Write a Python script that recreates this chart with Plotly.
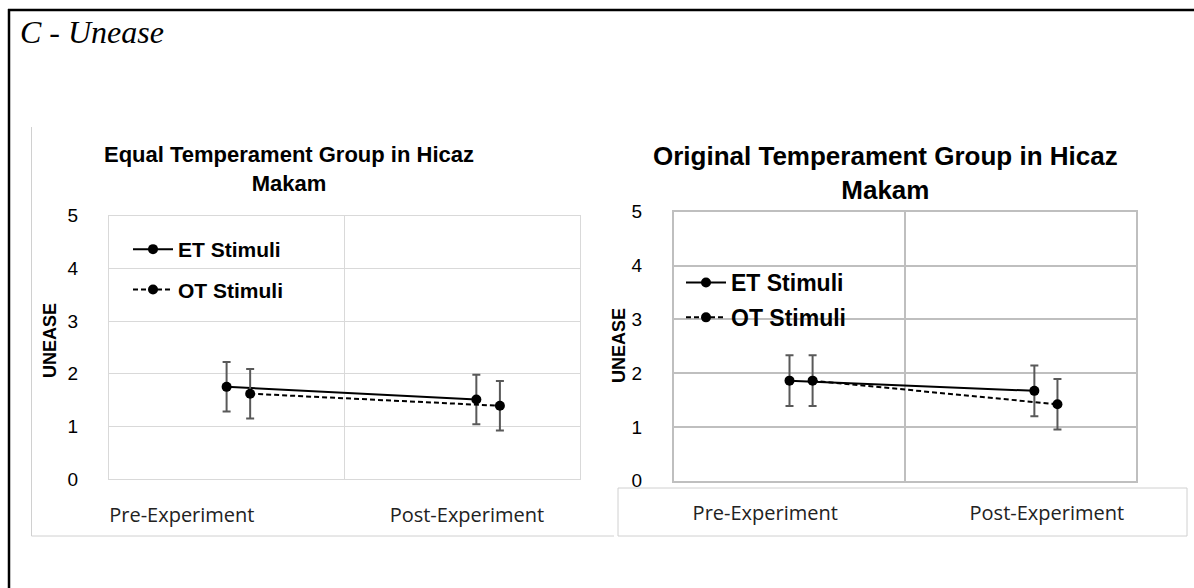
import plotly.graph_objects as go

W, H = 1194, 588

# ---------------- data ----------------
categories = ["Pre-Experiment", "Post-Experiment"]
series_names = ["ET Stimuli", "OT Stimuli"]
y_tick_labels = ["0", "1", "2", "3", "4", "5"]

eq_et_mean = [1.75, 1.51]
eq_et_err = [0.47, 0.47]
eq_ot_mean = [1.62, 1.39]
eq_ot_err = [0.47, 0.47]

or_et_mean = [1.86, 1.67]
or_et_err = [0.47, 0.47]
or_ot_mean = [1.86, 1.42]
or_ot_err = [0.47, 0.47]

title_left = "Equal Temperament Group in Hicaz<br>Makam"
title_right = "Original Temperament Group in Hicaz<br>Makam"
y_title = "UNEASE"
header = "C - Unease"


def px(x):
    return x / W


def py(y):
    return 1 - y / H


# position offsets of the two series inside each category slot (style)
ET_OFF = [0.0, 0.06]
OT_OFF = [0.10, 0.16]


def xpos(offs):
    return [i + 0.5 + o for i, o in enumerate(offs)]


fig = go.Figure()

err_style = dict(type="data", color="#595959", thickness=2, width=4, visible=True)


def add_pair(et_m, et_e, ot_m, ot_e, xa, ya, legend):
    fig.add_trace(go.Scatter(
        x=xpos(ET_OFF), y=et_m, name=series_names[0], mode="lines+markers",
        line=dict(color="black", width=2), marker=dict(color="black", size=10),
        error_y=dict(array=et_e, **err_style), xaxis=xa, yaxis=ya,
        legend=legend, legendgroup=legend + "a"))
    fig.add_trace(go.Scatter(
        x=xpos(OT_OFF), y=ot_m, name=series_names[1], mode="lines+markers",
        line=dict(color="black", width=2, dash="5px,3px"), marker=dict(color="black", size=10),
        error_y=dict(array=ot_e, **err_style), xaxis=xa, yaxis=ya,
        legend=legend, legendgroup=legend + "b"))


add_pair(eq_et_mean, eq_et_err, eq_ot_mean, eq_ot_err, "x", "y", "legend")
add_pair(or_et_mean, or_et_err, or_ot_mean, or_ot_err, "x2", "y2", "legend2")

tick_font = dict(family="Liberation Sans, Arial, sans-serif", size=19, color="#000")
xlab_font = dict(family="Open Sans, sans-serif", size=20, color="#222")


def yaxis(domain, grid, gw, anchor):
    return dict(domain=domain, range=[0, 5], tickvals=list(range(6)), ticktext=y_tick_labels,
                showgrid=True, gridcolor=grid, gridwidth=gw, zeroline=False,
                showline=True, linecolor=grid, linewidth=gw, mirror=True,
                tickfont=tick_font, ticks="", ticklabelstandoff=26, anchor=anchor,
                automargin=False, fixedrange=True)


def xaxis(domain, grid, gw, anchor, tickpos, standoff):
    return dict(domain=domain, range=[0, 2], tickvals=tickpos, ticktext=categories,
                showgrid=False, zeroline=False, showline=True, linecolor=grid, linewidth=gw,
                mirror=True, tickfont=xlab_font, ticks="", ticklabelstandoff=standoff,
                minor=dict(tickvals=[1], showgrid=True, gridcolor=grid, gridwidth=gw, ticks=""),
                anchor=anchor, automargin=False, fixedrange=True)


def legend_font(size):
    return dict(family="Liberation Sans, Arial, sans-serif", size=size, color="#000", weight="bold")


fig.update_layout(
    width=W, height=H, margin=dict(l=0, r=0, t=0, b=0, autoexpand=False),
    paper_bgcolor="white", plot_bgcolor="white",
    xaxis=xaxis([px(108.8), px(580)], "#d9d9d9", 1, "y", [0.31, 1.52], 18),
    yaxis=yaxis([py(479), py(215.7)], "#d9d9d9", 1, "x"),
    xaxis2=xaxis([px(674), px(1136)], "#bfbfbf", 2, "y2", [0.395, 1.614], 13),
    yaxis2=yaxis([py(480.7), py(211.7)], "#bfbfbf", 2, "x2"),
    legend=dict(x=px(128), y=py(229), xanchor="left", yanchor="top", font=legend_font(21),
                bgcolor="rgba(0,0,0,0)", traceorder="grouped", tracegroupgap=10, itemwidth=40),
    legend2=dict(x=px(681), y=py(261), xanchor="left", yanchor="top", font=legend_font(23),
                 bgcolor="rgba(0,0,0,0)", traceorder="grouped", tracegroupgap=2, itemwidth=40),
    showlegend=True,
)

shapes = [
    # outer black frame (top and left visible)
    dict(type="line", xref="paper", yref="paper", x0=px(8), x1=px(1200), y0=py(10), y1=py(10),
         line=dict(color="black", width=2.5)),
    dict(type="line", xref="paper", yref="paper", x0=px(9), x1=px(9), y0=py(9), y1=py(600),
         line=dict(color="black", width=2.5)),
    # left chart panel border
    dict(type="line", xref="paper", yref="paper", x0=px(31.5), x1=px(31.5), y0=py(127), y1=py(536),
         line=dict(color="#d0d0d0", width=1)),
    dict(type="line", xref="paper", yref="paper", x0=px(31.5), x1=px(614), y0=py(536), y1=py(536),
         line=dict(color="#d0d0d0", width=1)),
    # right chart category label box
    dict(type="rect", xref="paper", yref="paper", x0=px(618), x1=px(1187), y0=py(488), y1=py(536),
         line=dict(color="#d0d0d0", width=1), fillcolor="rgba(0,0,0,0)"),
]
fig.update_layout(shapes=shapes)


def title_font(size):
    return dict(family="Liberation Sans, Arial, sans-serif", size=size, color="#000", weight="bold")


ytitle_font = dict(family="Liberation Sans, Arial, sans-serif", size=18, color="#000", weight="bold")
annotations = [
    dict(text=header, xref="paper", yref="paper", x=px(18), y=py(12), xanchor="left", yanchor="top",
         showarrow=False, font=dict(family="Liberation Serif, Times New Roman, serif", size=32,
                                    color="#000", style="italic")),
    dict(text=title_left, xref="paper", yref="paper", x=px(289), y=py(169), xanchor="center",
         yanchor="middle", showarrow=False, font=title_font(22)),
    dict(text=title_right, xref="paper", yref="paper", x=px(885), y=py(173), xanchor="center",
         yanchor="middle", showarrow=False, font=title_font(26)),
    dict(text=y_title, xref="paper", yref="paper", x=px(38), y=py(341), textangle=-90,
         showarrow=False, font=ytitle_font),
    dict(text=y_title, xref="paper", yref="paper", x=px(619), y=py(346), textangle=-90,
         showarrow=False, font=ytitle_font),
]
fig.update_layout(annotations=annotations)

fig.write_html("out.html", config={"displayModeBar": False},
               post_script="document.body.style.margin='0px';")
